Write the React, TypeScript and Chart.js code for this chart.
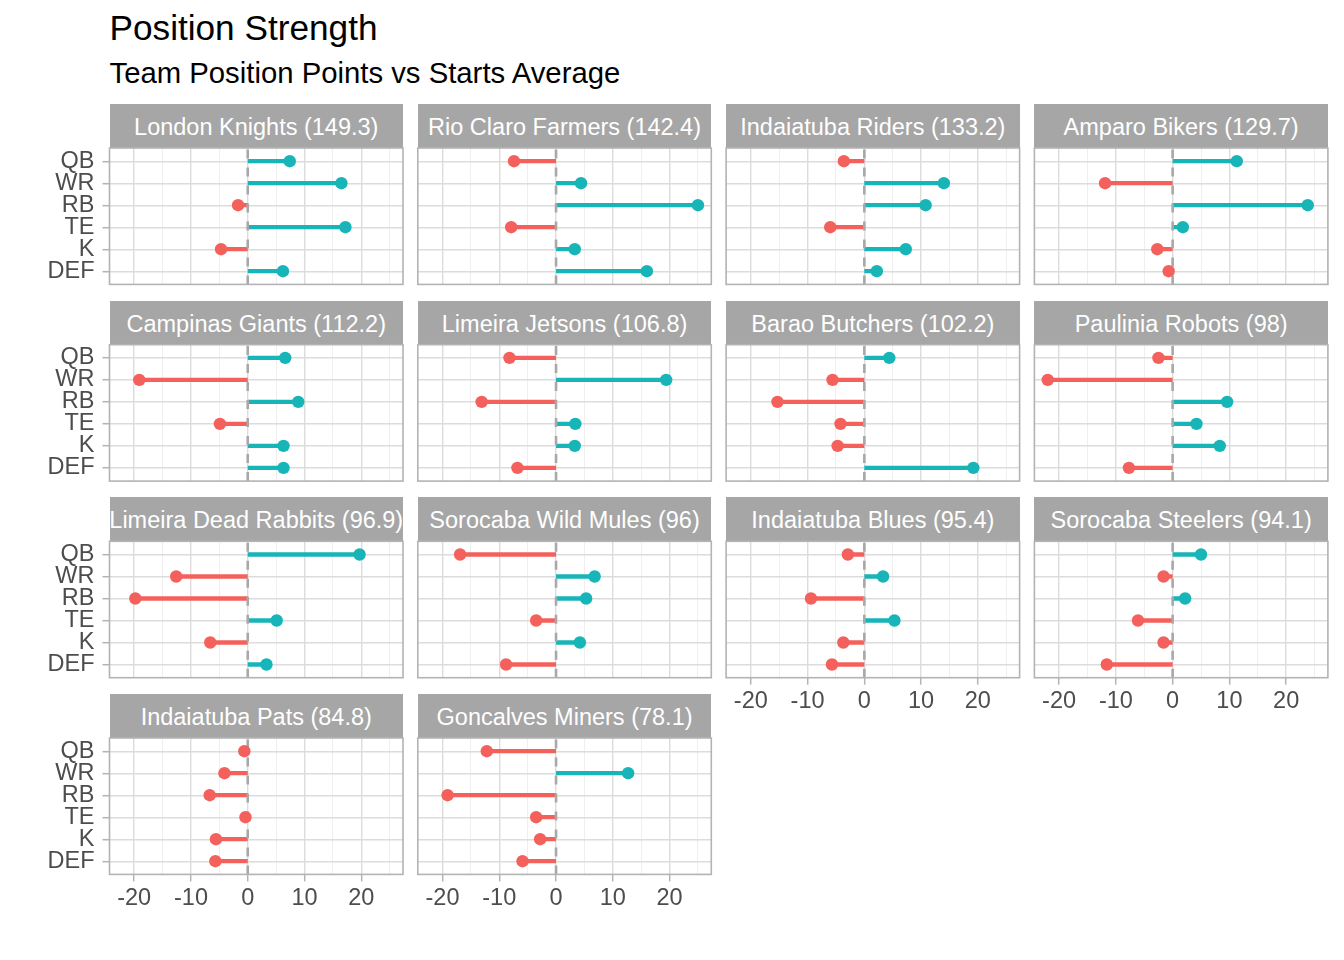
import React, { useEffect, useRef } from "react";
import { Chart, registerables } from "chart.js";

Chart.register(...registerables);

// ---------------- data ----------------
const positions = ["QB", "WR", "RB", "TE", "K", "DEF"];

const teamNames = [
  "London Knights",
  "Rio Claro Farmers",
  "Indaiatuba Riders",
  "Amparo Bikers",
  "Campinas Giants",
  "Limeira Jetsons",
  "Barao Butchers",
  "Paulinia Robots",
  "Limeira Dead Rabbits",
  "Sorocaba Wild Mules",
  "Indaiatuba Blues",
  "Sorocaba Steelers",
  "Indaiatuba Pats",
  "Goncalves Miners",
];

const teamTotals = [149.3, 142.4, 133.2, 129.7, 112.2, 106.8, 102.2, 98, 96.9, 96, 95.4, 94.1, 84.8, 78.1];

// values per position: QB, WR, RB, TE, K, DEF
const londonKnights = [7.4, 16.5, -1.7, 17.2, -4.7, 6.2];
const rioClaroFarmers = [-7.4, 4.4, 25.0, -7.9, 3.3, 16.0];
const indaiatubaRiders = [-3.6, 14.0, 10.8, -6.0, 7.3, 2.2];
const amparoBikers = [11.3, -11.9, 23.8, 1.8, -2.7, -0.7];
const campinasGiants = [6.6, -19.1, 8.9, -4.9, 6.3, 6.3];
const limeiraJetsons = [-8.2, 19.4, -13.1, 3.4, 3.3, -6.8];
const baraoButchers = [4.4, -5.6, -15.3, -4.2, -4.7, 19.2];
const pauliniaRobots = [-2.5, -22.0, 9.6, 4.2, 8.3, -7.7];
const limeiraDeadRabbits = [19.7, -12.6, -19.8, 5.1, -6.6, 3.3];
const sorocabaWildMules = [-16.9, 6.8, 5.3, -3.5, 4.2, -8.8];
const indaiatubaBlues = [-2.9, 3.3, -9.4, 5.3, -3.7, -5.7];
const sorocabaSteelers = [5.0, -1.6, 2.2, -6.1, -1.6, -11.6];
const indaiatubaPats = [-0.6, -4.1, -6.7, -0.4, -5.6, -5.7];
const goncalvesMiners = [-12.2, 12.7, -19.1, -3.5, -2.8, -5.9];

const teamValues = [
  londonKnights,
  rioClaroFarmers,
  indaiatubaRiders,
  amparoBikers,
  campinasGiants,
  limeiraJetsons,
  baraoButchers,
  pauliniaRobots,
  limeiraDeadRabbits,
  sorocabaWildMules,
  indaiatubaBlues,
  sorocabaSteelers,
  indaiatubaPats,
  goncalvesMiners,
];

const xTickValues = [-20, -15, -10, -5, 0, 5, 10, 15, 20, 25];

const chartTitle = "Position Strength";
const chartSubtitle = "Team Position Points vs Starts Average";

// ---------------- styling ----------------
const FONT = '"Liberation Sans", Arial, Helvetica, sans-serif';
const RED = "#F4605B";
const TEAL = "#18B5B8";
const GRID = "#DCDCDC";
const BORDER = "#B3B3B3";
const STRIP_BG = "#A6A6A6";
const AXIS_TEXT = "#4D4D4D";
const AXIS_FONT = 23.5;

const NCOL = 4;
const PLOT_W = 293.5;
const PLOT_H = 136.4;
const COL_LEFT = [109.5, 417.8, 726.1, 1034.4];
const STRIP_TOP = [104, 300.7, 497.3, 694];
const STRIP_H = 44;

// x range like ggplot: data range incl. 0, expanded 5%
const allVals = teamValues.flat().concat([0]);
const dMin = Math.min(...allVals);
const dMax = Math.max(...allVals);
const X_MIN = dMin - 0.05 * (dMax - dMin);
const X_MAX = dMax + 0.05 * (dMax - dMin);

const zeroLinePlugin = {
  id: "zeroLine",
  afterDatasetDraw(chart: any, args: any) {
    if (args.index !== 1) return;
    const { ctx, chartArea } = chart;
    const x = chart.scales.x.getPixelForValue(0);
    ctx.save();
    ctx.strokeStyle = "#A8A8A8";
    ctx.lineWidth = 2.6;
    ctx.setLineDash([9, 9]);
    ctx.beginPath();
    ctx.moveTo(x, chartArea.bottom);
    ctx.lineTo(x, chartArea.top);
    ctx.stroke();
    ctx.restore();
  },
};

const borderPlugin = {
  id: "panelBorder",
  afterDatasetsDraw(chart: any) {
    const { ctx, chartArea } = chart;
    ctx.save();
    ctx.strokeStyle = BORDER;
    ctx.lineWidth = 1.6;
    ctx.strokeRect(chartArea.left, chartArea.top, chartArea.right - chartArea.left, chartArea.bottom - chartArea.top);
    ctx.restore();
  },
};

type PanelProps = { values: number[]; col: number; row: number; showX: boolean; showY: boolean };

function Panel({ values, col, row, showX, showY }: PanelProps) {
  const ref = useRef<HTMLCanvasElement>(null);
  const plotLeft = COL_LEFT[col];
  const plotTop = STRIP_TOP[row] + STRIP_H;
  const left = showY ? 0 : Math.floor(plotLeft - 12);
  const padL = plotLeft - left;
  const top = Math.floor(plotTop - 6);
  const padT = plotTop - top;
  const width = Math.ceil(padL + PLOT_W + 12);
  const padR = width - padL - PLOT_W;
  const height = Math.ceil(padT + PLOT_H + 46);
  const padB = height - padT - PLOT_H;

  useEffect(() => {
    if (!ref.current) return;
    const segDatasets = values.map((v, i) => ({
      data: [
        { x: 0, y: i },
        { x: v, y: i },
      ],
      showLine: true,
      borderColor: v < 0 ? RED : TEAL,
      borderWidth: 4.3,
      borderCapStyle: "butt" as const,
      pointRadius: 0,
      pointHoverRadius: 0,
    }));
    const pointDataset = {
      data: values.map((v, i) => ({ x: v, y: i })),
      pointRadius: 6.2,
      pointHoverRadius: 6.2,
      pointBorderWidth: 0,
      pointBackgroundColor: values.map((v) => (v < 0 ? RED : TEAL)),
      backgroundColor: values.map((v) => (v < 0 ? RED : TEAL)),
      showLine: false,
    };
    const chart = new Chart(ref.current, {
      type: "scatter",
      data: { datasets: [pointDataset, ...segDatasets] as any },
      options: {
        animation: false,
        responsive: false,
        maintainAspectRatio: false,
        events: [],
        layout: { padding: { top: padT, right: padR, left: 0, bottom: 0 }, autoPadding: false } as any,
        plugins: { legend: { display: false }, tooltip: { enabled: false } },
        scales: {
          x: {
            type: "linear",
            min: X_MIN,
            max: X_MAX,
            afterBuildTicks: (s: any) => {
              s.ticks = xTickValues.map((v) => ({ value: v }));
            },
            afterFit: (s: any) => {
              s.height = padB;
              s.paddingLeft = 0;
              s.paddingRight = 0;
              s.paddingTop = 0;
              s.paddingBottom = 0;
            },
            border: { display: false },
            grid: {
              color: (c: any) => (c.tick && c.tick.value % 10 === 0 ? GRID : "#EBEBEB"),
              lineWidth: (c: any) => (c.tick && c.tick.value % 10 === 0 ? 1.4 : 0.8),
              drawTicks: showX,
              tickLength: 7,
              tickColor: (c: any) => (c.tick && c.tick.value % 10 === 0 ? BORDER : "rgba(0,0,0,0)"),
              tickWidth: 1.5,
            } as any,
            ticks: {
              display: showX,
              autoSkip: false,
              maxRotation: 0,
              minRotation: 0,
              padding: 3,
              color: AXIS_TEXT,
              font: { family: FONT, size: AXIS_FONT },
              callback: (v: any) => (Number(v) % 10 === 0 ? String(v) : ""),
            },
          },
          y: {
            type: "linear",
            min: -0.6,
            max: positions.length - 0.4,
            reverse: true,
            afterBuildTicks: (s: any) => {
              s.ticks = positions.map((_, i) => ({ value: i }));
            },
            afterFit: (s: any) => {
              s.width = padL;
              s.paddingLeft = 0;
              s.paddingRight = 0;
              s.paddingTop = 0;
              s.paddingBottom = 0;
            },
            border: { display: false },
            grid: {
              color: GRID,
              lineWidth: 1.4,
              drawTicks: showY,
              tickLength: 7,
              tickColor: BORDER,
              tickWidth: 1.5,
            } as any,
            ticks: {
              display: showY,
              autoSkip: false,
              padding: 8,
              color: AXIS_TEXT,
              font: { family: FONT, size: AXIS_FONT, lineHeight: 1 },
              callback: (v: any) => positions[Number(v)] ?? "",
            },
          },
        },
      },
      plugins: [zeroLinePlugin, borderPlugin],
    });
    return () => chart.destroy();
  }, []);

  return (
    <canvas
      ref={ref}
      width={width}
      height={height}
      style={{ position: "absolute", left, top, width, height, display: "block" }}
    />
  );
}

export default function App() {
  const nRows = Math.ceil(teamNames.length / NCOL);
  return (
    <div
      style={{
        position: "absolute",
        left: 0,
        top: 0,
        width: 1344,
        height: 960,
        background: "#FFFFFF",
        overflow: "hidden",
        fontFamily: FONT,
      }}
    >
      <div
        style={{
          position: "absolute",
          left: 109.5,
          top: 10.2,
          fontSize: 35.2,
          lineHeight: "35.2px",
          color: "#000",
          whiteSpace: "nowrap",
        }}
      >
        {chartTitle}
      </div>
      <div
        style={{
          position: "absolute",
          left: 109.5,
          top: 57.7,
          fontSize: 29.3,
          lineHeight: "29.3px",
          color: "#000",
          whiteSpace: "nowrap",
        }}
      >
        {chartSubtitle}
      </div>
      {teamNames.map((name, k) => {
        const col = k % NCOL;
        const row = Math.floor(k / NCOL);
        const below = k + NCOL < teamNames.length;
        return (
          <React.Fragment key={name}>
            <div
              style={{
                position: "absolute",
                left: COL_LEFT[col],
                top: STRIP_TOP[row],
                width: PLOT_W,
                height: STRIP_H,
                background: STRIP_BG,
                color: "#FFFFFF",
                fontSize: AXIS_FONT,
                display: "flex",
                alignItems: "center",
                justifyContent: "center",
                overflow: "hidden",
                whiteSpace: "nowrap",
              }}
            >
              <span style={{ position: "relative", top: 1.5 }}>{`${name} (${teamTotals[k]})`}</span>
            </div>
            <Panel values={teamValues[k]} col={col} row={row} showX={!below || row === nRows - 1} showY={col === 0} />
          </React.Fragment>
        );
      })}
    </div>
  );
}
